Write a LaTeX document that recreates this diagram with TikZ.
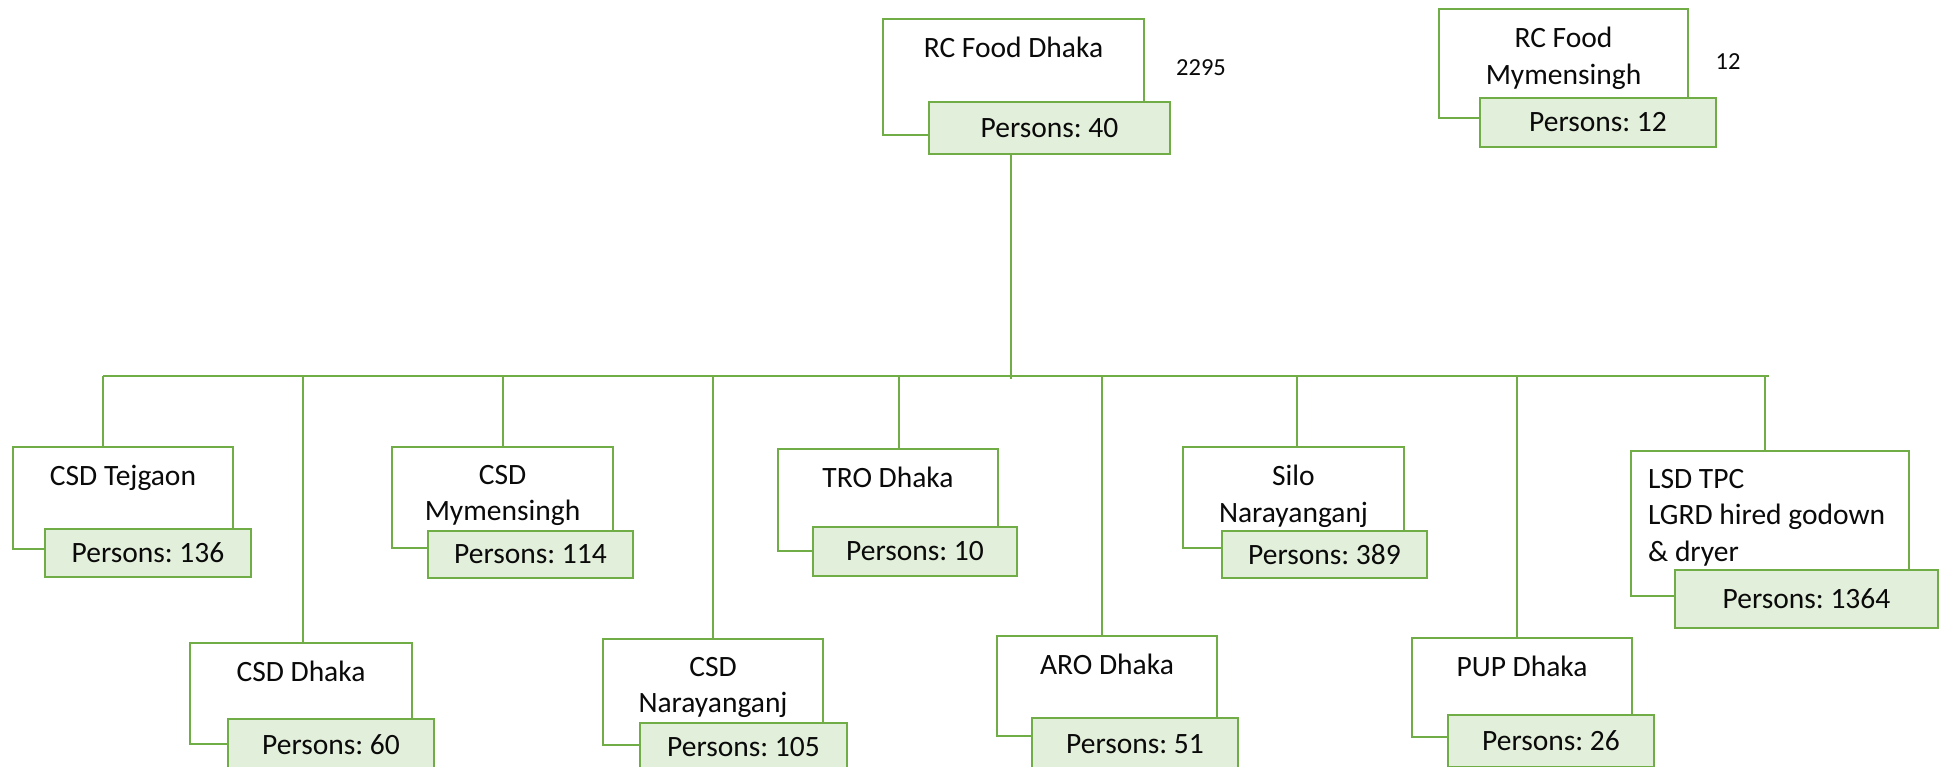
\documentclass[tikz,border=0pt]{standalone}
\usepackage{fontspec}
\setmainfont{Carlito}
\definecolor{orgline}{RGB}{112,173,71}
\definecolor{orgfill}{RGB}{226,239,218}
\definecolor{orgtext}{RGB}{10,10,10}

\begin{document}
\frenchspacing
\begin{tikzpicture}[x=1pt,y=-1pt,
  unitbox/.style={draw=orgline, line width=2.5pt, fill=white, anchor=north west,
    inner sep=0pt, outer sep=0pt},
  countbox/.style={draw=orgline, line width=2.5pt, fill=orgfill, anchor=north west,
    inner sep=0pt, outer sep=0pt, text=orgtext, font=\fontsize{29.5}{36.5}\selectfont},
  unitlabel/.style={anchor=north, inner sep=0pt, align=center, text=orgtext,
    font=\fontsize{29.5}{36.5}\selectfont},
  totallabel/.style={anchor=base, inner sep=0pt, text=orgtext,
    font=\fontsize{24.5}{29}\selectfont},
  link/.style={draw=orgline, line width=2.5pt}
]
\clip (0,0) rectangle (1941,767);
\fill[white] (0,0) rectangle (1941,767);

% ---------- bus and junction points ----------
\coordinate (jm) at (1011,379);
\coordinate (j1) at (103,376);
\coordinate (j2) at (303,376);
\coordinate (j3) at (503,376);
\coordinate (j4) at (713,376);
\coordinate (j5) at (899,376);
\coordinate (j6) at (1102,376);
\coordinate (j7) at (1297,376);
\coordinate (j8) at (1517,376);
\coordinate (j9) at (1765,376);
\coordinate (busend) at (1769,376);

% ---------- head offices ----------
\node[unitbox, minimum width=261pt, minimum height=116pt] (rcbox) at (883,19) {};
\node[unitlabel] (rclab) at (1013.5,37) {RC Food Dhaka};
\node[countbox, minimum width=241pt, minimum height=52pt] (rcp) at (929,102) {Persons: 40};
\node[totallabel] (rctot) at (1201,76) {2295};

\node[unitbox, minimum width=249pt, minimum height=109pt] (rmbox) at (1439,9) {};
\node[unitlabel] (rmlab) at (1563.5,27) {RC Food\\Mymensingh};
\node[countbox, minimum width=236pt, minimum height=49pt] (rmp) at (1480,98) {Persons: 12};
\node[totallabel] (rmtot) at (1728,70) {12};

% ---------- first row of offices ----------
\node[unitbox, minimum width=220pt, minimum height=102pt] (t1box) at (13,447) {};
\node[unitlabel] (t1lab) at (123,465) {CSD Tejgaon};
\node[countbox, minimum width=206pt, minimum height=48pt] (t1p) at (45,529) {Persons: 136};

\node[unitbox, minimum width=221pt, minimum height=101pt] (t2box) at (392,447) {};
\node[unitlabel] (t2lab) at (502.5,465) {CSD\\Mymensingh};
\node[countbox, minimum width=205pt, minimum height=47pt] (t2p) at (428,531) {Persons: 114};

\node[unitbox, minimum width=220pt, minimum height=102pt] (t3box) at (778,449) {};
\node[unitlabel] (t3lab) at (888,467) {TRO Dhaka};
\node[countbox, minimum width=204pt, minimum height=49pt] (t3p) at (813,527) {Persons: 10};

\node[unitbox, minimum width=221pt, minimum height=101pt] (t4box) at (1183,447) {};
\node[unitlabel] (t4lab) at (1293.5,465) {Silo\\Narayanganj};
\node[countbox, minimum width=205pt, minimum height=47pt] (t4p) at (1222,531) {Persons: 389};

\node[unitbox, minimum width=278pt, minimum height=145pt] (t5box) at (1631,451) {};
\node[unitlabel, anchor=north west, align=left] (t5lab) at (1648,469)
  {LSD TPC\\LGRD hired godown\\\& dryer};
\node[countbox, minimum width=263pt, minimum height=58pt] (t5p) at (1675,570) {Persons: 1364};

% ---------- second row of offices ----------
\node[unitbox, minimum width=222pt, minimum height=101pt] (b1box) at (190,643) {};
\node[unitlabel] (b1lab) at (301,661) {CSD Dhaka};
\node[countbox, minimum width=206pt, minimum height=52pt] (b1p) at (228,719) {Persons: 60};

\node[unitbox, minimum width=220pt, minimum height=106pt] (b2box) at (603,639) {};
\node[unitlabel] (b2lab) at (713,657) {CSD\\Narayanganj};
\node[countbox, minimum width=207pt, minimum height=48pt] (b2p) at (640,723) {Persons: 105};

\node[unitbox, minimum width=220pt, minimum height=100pt] (b3box) at (997,636) {};
\node[unitlabel] (b3lab) at (1107,654) {ARO Dhaka};
\node[countbox, minimum width=206pt, minimum height=52pt] (b3p) at (1032,718) {Persons: 51};

\node[unitbox, minimum width=220pt, minimum height=99pt] (b4box) at (1412,638) {};
\node[unitlabel] (b4lab) at (1522,656) {PUP Dhaka};
\node[countbox, minimum width=206pt, minimum height=52pt] (b4p) at (1448,715) {Persons: 26};

% ---------- connectors ----------
\draw[link] (jm |- rcp.south) -- (jm);
\draw[link] (j1) -- (busend);
\draw[link] (j1) -- (j1 |- t1box.north);
\draw[link] (j2) -- (j2 |- b1box.north);
\draw[link] (j3) -- (j3 |- t2box.north);
\draw[link] (j4) -- (j4 |- b2box.north);
\draw[link] (j5) -- (j5 |- t3box.north);
\draw[link] (j6) -- (j6 |- b3box.north);
\draw[link] (j7) -- (j7 |- t4box.north);
\draw[link] (j8) -- (j8 |- b4box.north);
\draw[link] (j9) -- (j9 |- t5box.north);
\end{tikzpicture}
\end{document}
